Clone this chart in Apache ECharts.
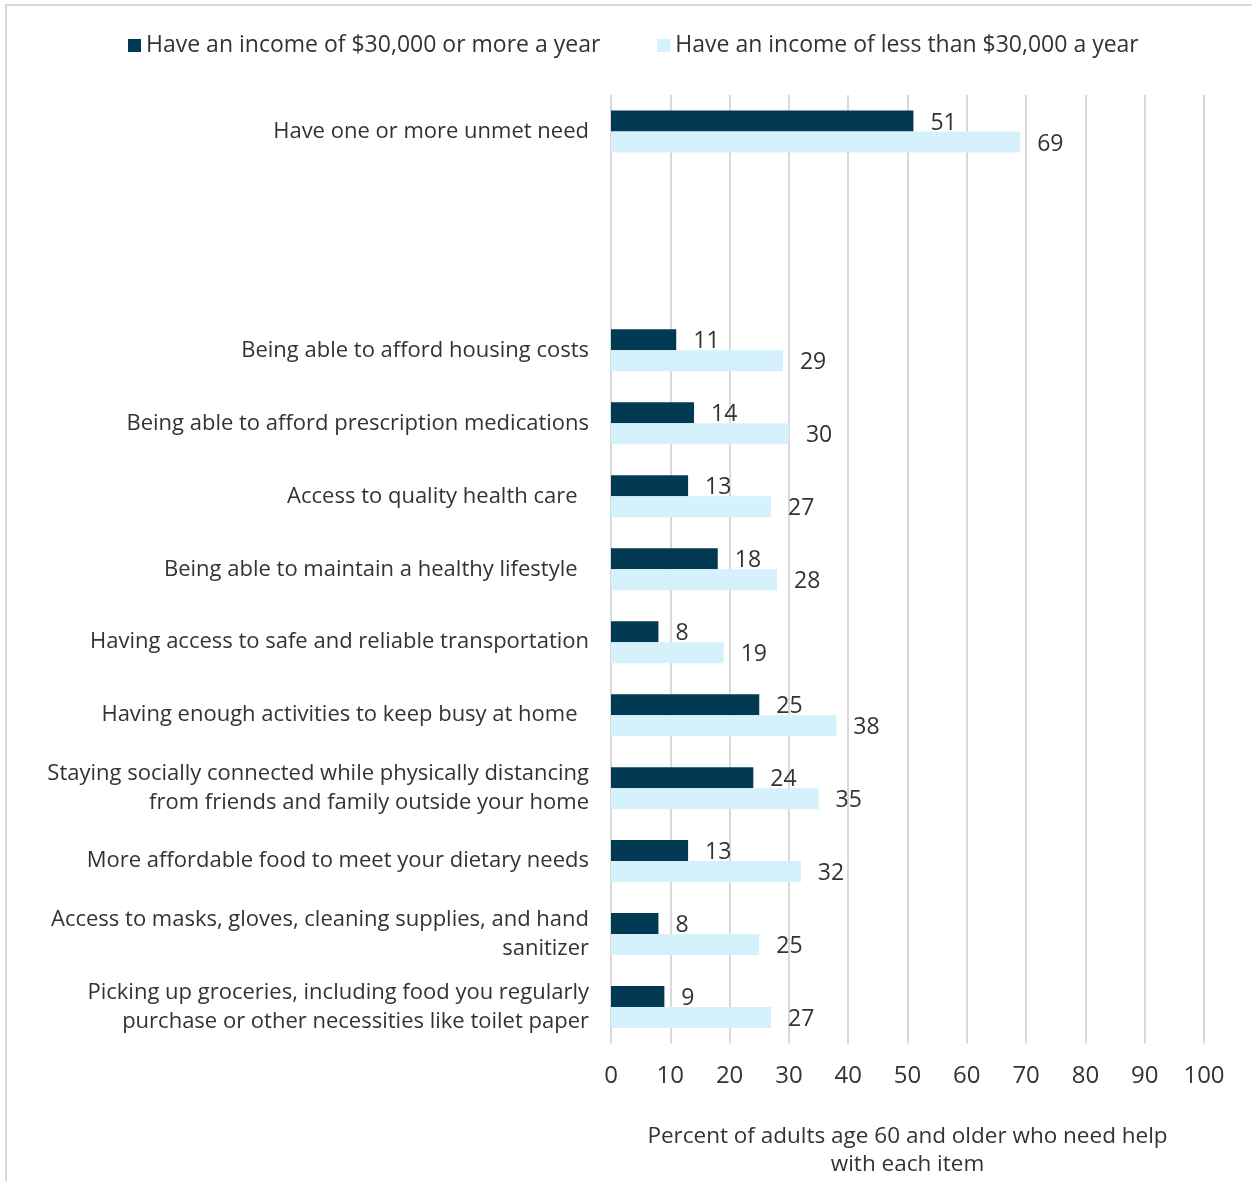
<!DOCTYPE html>
<html>
<head>
<meta charset="utf-8">
<script src="https://cdn.jsdelivr.net/npm/echarts@6/dist/echarts.min.js"></script>
<style>
  html, body { margin: 0; padding: 0; background: #fff; }
  #chart { width: 1252px; height: 1181px; }
</style>
</head>
<body>
<div id="chart"></div>
<script>
// Unmet needs of adults 60+ by household income
const categories = [
  'Have one or more unmet need',
  ' ',
  '  ',
  'Being able to afford housing costs',
  'Being able to afford prescription medications',
  'Access to quality health care  ',
  'Being able to maintain a healthy lifestyle  ',
  'Having access to safe and reliable transportation',
  'Having enough activities to keep busy at home  ',
  'Staying socially connected while physically distancing\nfrom friends and family outside your home',
  'More affordable food to meet your dietary needs',
  'Access to masks, gloves, cleaning supplies, and hand\nsanitizer',
  'Picking up groceries, including food you regularly\npurchase or other necessities like toilet paper'
];
const seriesNames = [
  'Have an income of $30,000 or more a year',
  'Have an income of less than $30,000 a year'
];
const incomeHigh = [51, null, null, 11, 14, 13, 18, 8, 25, 24, 13, 8, 9];
const incomeLow  = [69, null, null, 29, 30, 27, 28, 19, 38, 35, 32, 25, 27];
const xTicks = [0, 10, 20, 30, 40, 50, 60, 70, 80, 90, 100];
const axisTitle = 'Percent of adults age 60 and older who need help\nwith each item';

const FONT = '"Open Sans", Roboto, sans-serif';
const TEXT = '#333333';
const DARK = '#023a53';
const LIGHT = '#d4f1fc';
const GRID = '#d9d9d9';

const chart = echarts.init(document.getElementById('chart'), null, { renderer: 'canvas' });

const valueLabel = {
  show: true,
  position: 'right',
  distance: 17,
  offset: [0, 2],
  color: TEXT,
  fontFamily: FONT,
  fontSize: 23
};

chart.setOption({
  backgroundColor: '#ffffff',
  animation: false,
  graphic: [{
    type: 'rect',
    shape: { x: 6, y: 5, width: 1400, height: 1400 },
    style: { fill: 'none', stroke: GRID, lineWidth: 2 },
    silent: true
  }],
  legend: {
    top: 29,
    left: 123,
    itemWidth: 13,
    itemHeight: 13,
    itemGap: 57,
    icon: 'rect',
    textStyle: { color: TEXT, fontFamily: FONT, fontSize: 23, padding: [2, 0, 0, 0] },
    data: seriesNames
  },
  grid: {
    left: 611,
    right: 48,
    top: 95,
    bottom: 1181 - 1043.5,
    containLabel: false,
    outerBoundsMode: 'none'
  },
  xAxis: {
    type: 'value',
    min: xTicks[0],
    max: xTicks[xTicks.length - 1],
    interval: 10,
    axisLine: { show: false },
    axisTick: { show: false },
    splitLine: { show: true, lineStyle: { color: GRID, width: 2 } },
    axisLabel: { color: TEXT, fontFamily: FONT, fontSize: 24, margin: 21 },
    name: axisTitle,
    nameLocation: 'middle',
    nameGap: 79,
    nameTextStyle: { color: TEXT, fontFamily: FONT, fontSize: 22.5, lineHeight: 28 }
  },
  yAxis: {
    type: 'category',
    inverse: true,
    data: categories,
    axisLine: { show: false },
    axisTick: { show: false },
    axisLabel: {
      color: TEXT,
      fontFamily: FONT,
      fontSize: 22,
      lineHeight: 29,
      margin: 22,
      align: 'right',
      padding: [7, 0, 0, 0]
    }
  },
  series: [
    {
      name: seriesNames[0],
      type: 'bar',
      data: incomeHigh,
      barWidth: 21,
      barGap: '0%',
      itemStyle: { color: DARK },
      label: valueLabel
    },
    {
      name: seriesNames[1],
      type: 'bar',
      data: incomeLow,
      barWidth: 21,
      barGap: '0%',
      itemStyle: { color: LIGHT },
      label: valueLabel
    }
  ]
});
</script>
</body>
</html>
